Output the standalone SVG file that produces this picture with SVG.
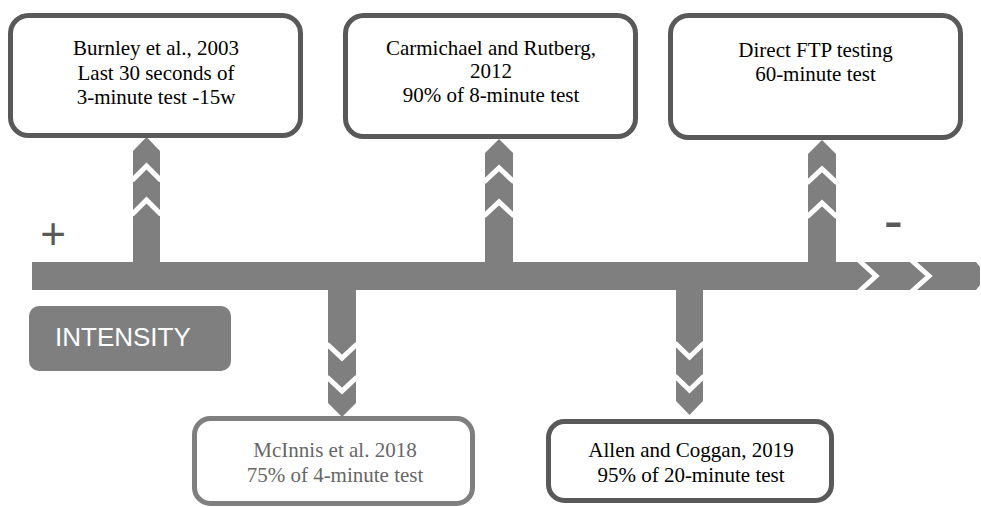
<svg xmlns="http://www.w3.org/2000/svg" width="981" height="507" viewBox="0 0 981 507">
<style>
.box{fill:#ffffff;stroke:#595959;stroke-width:5}
.boxl{fill:#ffffff;stroke:#7f7f7f;stroke-width:5}
.conn{fill:#7f7f7f}
.gap{fill:none;stroke:#ffffff;stroke-width:5;stroke-linejoin:miter}
</style>
<rect width="981" height="507" fill="#ffffff"/>
<g id="connectors">
  <path id="timeline" class="conn" d="M32,262 H976 L980,267 V285 L976,290 H32 Z"/>
  <polyline class="gap" points="857.5,259 876,276 857.5,293" stroke-width="5.5"/>
  <polyline class="gap" points="910,259 929,276 910,293" stroke-width="5.5"/>
  <path id="c1" class="conn" d="M133,262 V151 L146.5,137 L160,151 V262 Z"/>
  <polyline class="gap" points="132,180.5 146.5,166 161,180.5"/>
  <polyline class="gap" points="132,214.5 146.5,200 161,214.5"/>
  <path id="c2" class="conn" d="M485,262 V153 L499,139 L513,153 V262 Z"/>
  <polyline class="gap" points="484,182 499,168 514,182"/>
  <polyline class="gap" points="484,216 499,202 514,216"/>
  <path id="c3" class="conn" d="M808,262 V154 L822,140 L836,154 V262 Z"/>
  <polyline class="gap" points="807,183 822,169 837,183"/>
  <polyline class="gap" points="807,217 822,203 837,217"/>
  <path id="c4" class="conn" d="M328,290 V403 L342,417 L356,403 V290 Z"/>
  <polyline class="gap" points="327,344 342,358 357,344"/>
  <polyline class="gap" points="327,377 342,391 357,377"/>
  <path id="c5" class="conn" d="M676,290 V401 L689.5,415 L703,401 V290 Z"/>
  <polyline class="gap" points="675,343 689.5,357 704,343"/>
  <polyline class="gap" points="675,376 689.5,390 704,376"/>
</g>
<g id="plus"><text x="53" y="249" font-family="'Liberation Sans', Arial, sans-serif" font-size="44" fill="#595959" text-anchor="middle">+</text></g>
<g id="minus"><text x="893.5" y="240" font-family="'Liberation Sans', Arial, sans-serif" font-size="58" fill="#595959" text-anchor="middle">-</text></g>
<g id="intensity">
  <rect x="29" y="306" width="202" height="65" rx="10" fill="#7f7f7f"/>
  <text x="55" y="346" font-family="'Liberation Sans', Arial, sans-serif" font-size="26" fill="#ffffff">INTENSITY</text>
</g>
<g font-family="'Liberation Serif', 'Times New Roman', 'DejaVu Serif', serif" font-size="21" text-anchor="middle" fill="#000000">
<g id="burnley">
  <rect class="box" x="10.5" y="15.5" width="290" height="120" rx="18"/>
  <text x="156" y="55">Burnley et al., 2003</text>
  <text x="156" y="80">Last 30 seconds of</text>
  <text x="156" y="104">3-minute test -15w</text>
</g>
<g id="carmichael">
  <rect class="box" x="345.5" y="15.5" width="290" height="121" rx="18"/>
  <text x="491" y="55">Carmichael and Rutberg,</text>
  <text x="491" y="78">2012</text>
  <text x="491" y="102">90% of 8-minute test</text>
</g>
<g id="direct">
  <rect class="box" x="670.5" y="15.5" width="290" height="122" rx="18"/>
  <text x="815.5" y="57">Direct FTP testing</text>
  <text x="815.5" y="81">60-minute test</text>
</g>
<g id="mcinnis">
  <rect class="boxl" x="194.5" y="418.5" width="278" height="85" rx="16"/>
  <text x="335" y="457" fill="#666666">McInnis et al. 2018</text>
  <text x="335" y="482" fill="#666666">75% of 4-minute test</text>
</g>
<g id="allen">
  <rect class="box" x="548.5" y="421.5" width="283" height="79" rx="16"/>
  <text x="691" y="457">Allen and Coggan, 2019</text>
  <text x="691" y="482">95% of 20-minute test</text>
</g>
</g>
</svg>
